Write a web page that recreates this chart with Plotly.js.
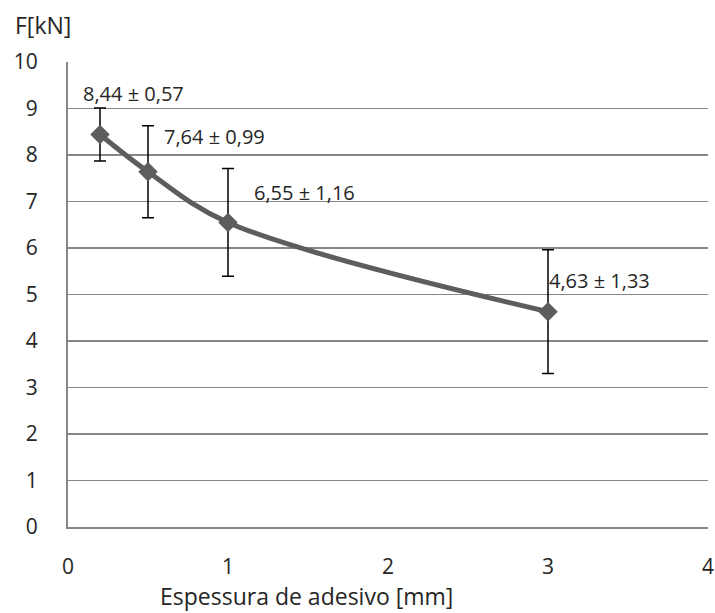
<!DOCTYPE html>
<html><head><meta charset="utf-8">
<script src="https://cdn.plot.ly/plotly-3.0.1.min.js"></script>
<style>html,body{margin:0;padding:0;background:#fff}#c{width:715px;height:613px}</style>
</head><body><div id="c"></div>
<script>
const thickness = [0.2, 0.5, 1, 3];
const force = [8.44, 7.64, 6.55, 4.63];
const forceErr = [0.57, 0.99, 1.16, 1.33];
const pointLabels = ["8,44 ± 0,57", "7,64 ± 0,99", "6,55 ± 1,16", "4,63 ± 1,33"];
const xTicks = [0, 1, 2, 3, 4];
const yTicks = [0, 1, 2, 3, 4, 5, 6, 7, 8, 9, 10];

const labelShift = [[-19, 41], [14, 35], [24, 30], [-1, 31]];
const font = "Open Sans, sans-serif";
const txt = "#262626";

const trace = {
  x: thickness, y: force, type: "scatter", mode: "lines+markers",
  line: {shape: "spline", smoothing: 1, color: "#5d5d5d", width: 5},
  marker: {symbol: "diamond", size: 15, color: "#5d5d5d"},
  error_y: {type: "data", array: forceErr, visible: true, color: "#000", thickness: 1.5, width: 6},
  hoverinfo: "skip"
};

const annotations = pointLabels.map((t, i) => ({
  x: thickness[i], y: force[i], xref: "x", yref: "y", text: t, showarrow: false,
  xanchor: "left", yanchor: "middle", xshift: labelShift[i][0], yshift: labelShift[i][1],
  font: {family: font, size: 20, color: txt}
}));

const W = 715, H = 613, M = {l: 68, r: 7, t: 62, b: 86};
const pw = W - M.l - M.r, ph = H - M.t - M.b;
annotations.push({x: (13 - M.l) / pw, y: (H - M.b - 25) / ph, xref: "paper", yref: "paper", text: "F[kN]", showarrow: false,
  font: {family: font, size: 23, color: txt}, xanchor: "left", yanchor: "middle"});
annotations.push({xref: "paper", yref: "paper", x: (306 - M.l) / pw, y: (H - M.b - 613) / ph,
  text: "Espessura de adesivo [mm]", showarrow: false, xanchor: "center", yanchor: "bottom",
  borderpad: 0, font: {family: font, size: 23, color: txt}});

const layout = {
  width: W, height: H,
  margin: M,
  paper_bgcolor: "#fff", plot_bgcolor: "#fff",
  showlegend: false,
  font: {family: font, color: txt},
  xaxis: {range: [0, 4], tickvals: xTicks, ticktext: xTicks.map(String), showgrid: false, zeroline: false,
    showline: true, linecolor: "#868686", linewidth: 2, ticks: "", ticklabelstandoff: 20,
    tickfont: {family: font, size: 21, color: txt},
    title: {text: ""}},
  yaxis: {range: [0, 10], tickvals: yTicks, ticktext: yTicks.map(String), showgrid: true, gridcolor: "#868686", gridwidth: 1.5,
    zeroline: false, showline: true, linecolor: "#868686", linewidth: 2, ticks: "", ticklabelstandoff: 24,
    tickfont: {family: font, size: 21, color: txt}},
  annotations: annotations
};

Plotly.newPlot("c", [trace], layout, {displayModeBar: false, staticPlot: true});
</script>
</body></html>
